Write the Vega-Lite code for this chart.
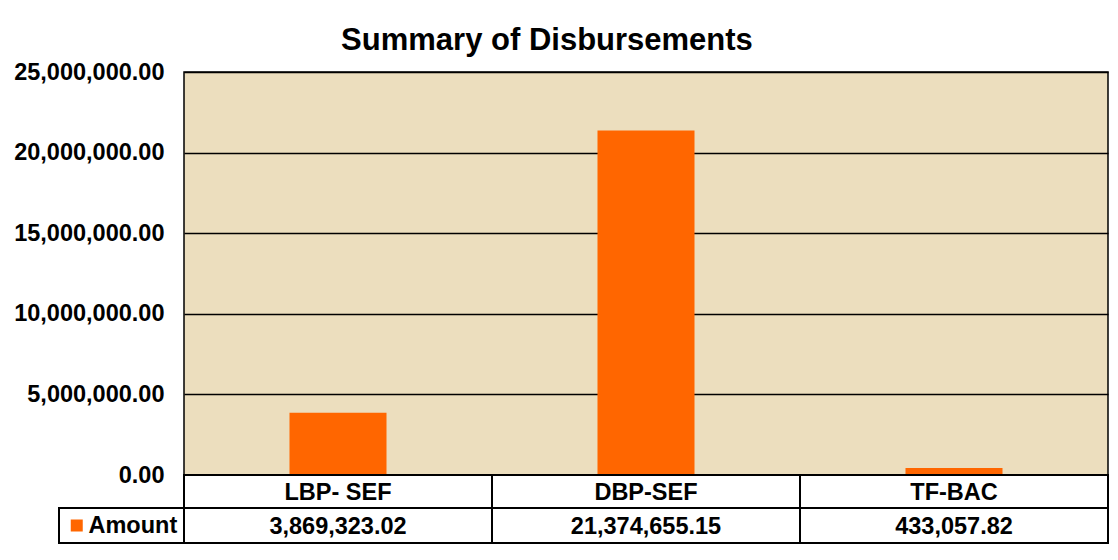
{
  "$schema": "https://vega.github.io/schema/vega-lite/v6.json",
  "background": "white",
  "padding": {"left": 12, "top": 25, "right": 5, "bottom": 5},
  "title": {
    "text": "Summary of Disbursements",
    "font": "Liberation Sans",
    "fontSize": 31,
    "fontWeight": "bold",
    "color": "black",
    "anchor": "middle",
    "frame": "bounds",
    "dx": -14,
    "offset": 2
  },
  "datasets": {
    "disb": [
      {"source": "LBP- SEF", "series": "Amount", "amount": 3869323.02, "label": "3,869,323.02"},
      {"source": "DBP-SEF", "series": "Amount", "amount": 21374655.15, "label": "21,374,655.15"},
      {"source": "TF-BAC", "series": "Amount", "amount": 433057.82, "label": "433,057.82"}
    ]
  },
  "spacing": 0,
  "bounds": "flush",
  "resolve": {"scale": {"color": "independent", "x": "independent"}, "legend": {"color": "independent"}},
  "config": {
    "font": "Liberation Sans",
    "view": {"stroke": "black", "strokeWidth": 1.5}
  },
  "vconcat": [
    {
      "width": 924,
      "height": 403,
      "view": {"fill": "#ecdebe", "stroke": "black", "strokeWidth": 1.5},
      "data": {"name": "disb"},
      "mark": {"type": "bar", "color": "#ff6600"},
      "encoding": {
        "x": {
          "field": "source",
          "type": "nominal",
          "sort": null,
          "axis": null,
          "scale": {"paddingInner": 0.685, "paddingOuter": 0.3425}
        },
        "y": {
          "field": "amount",
          "type": "quantitative",
          "scale": {"domain": [0, 25000000], "nice": false},
          "axis": {
            "title": null,
            "values": [0, 5000000, 10000000, 15000000, 20000000, 25000000],
            "format": ",.2f",
            "labelFont": "Liberation Sans",
            "labelFontSize": 23.5,
            "labelFontWeight": "bold",
            "labelColor": "black",
            "labelPadding": 20,
            "ticks": false,
            "domain": false,
            "grid": true,
            "gridColor": "black",
            "gridWidth": 1.5,
            "gridOpacity": 1
          }
        }
      }
    },
    {
      "width": 924,
      "height": 33,
      "view": {"stroke": null},
      "data": {"name": "disb"},
      "encoding": {
        "x": {
          "field": "source",
          "type": "nominal",
          "sort": null,
          "axis": null,
          "scale": {"paddingInner": 0, "paddingOuter": 0}
        }
      },
      "layer": [
        {"mark": {"type": "rect", "fill": "white", "stroke": "black", "strokeWidth": 2}},
        {
          "mark": {"type": "text", "font": "Liberation Sans", "fontSize": 23.5, "fontWeight": "bold", "color": "black", "baseline": "middle", "dy": 1},
          "encoding": {"text": {"field": "source"}}
        }
      ]
    },
    {
      "width": 924,
      "height": 35,
      "view": {"stroke": null},
      "data": {"name": "disb"},
      "encoding": {
        "x": {
          "field": "source",
          "type": "nominal",
          "sort": null,
          "axis": null,
          "scale": {"paddingInner": 0, "paddingOuter": 0}
        }
      },
      "layer": [
        {"mark": {"type": "rect", "fill": "white", "stroke": "black", "strokeWidth": 2}},
        {
          "mark": {"type": "text", "font": "Liberation Sans", "fontSize": 23.5, "fontWeight": "bold", "color": "black", "baseline": "middle", "dy": 1},
          "encoding": {"text": {"field": "label"}}
        },
        {
          "mark": {"type": "point", "filled": true, "shape": "square", "size": 0, "strokeWidth": 0, "opacity": 1},
          "encoding": {
            "color": {
              "field": "series",
              "type": "nominal",
              "scale": {"range": ["#ff6600"]},
              "legend": {
                "title": null,
                "orient": "left",
                "offset": 0,
                "padding": 6,
                "symbolType": "square",
                "symbolSize": 144,
                "symbolStrokeWidth": 0,
                "symbolOpacity": 1,
                "symbolFillColor": "#ff6600",
                "labelFont": "Liberation Sans",
                "labelFontSize": 23.5,
                "labelFontWeight": "bold",
                "labelColor": "black",
                "labelOffset": 0,
                "clipHeight": 23,
                "fillColor": "white",
                "strokeColor": "black",
                "encode": {
                  "symbols": {"update": {"opacity": {"value": 1}, "fillOpacity": {"value": 1}}},
                  "legend": {"update": {"strokeWidth": {"value": 2}}}
                }
              }
            }
          }
        }
      ]
    }
  ]
}
